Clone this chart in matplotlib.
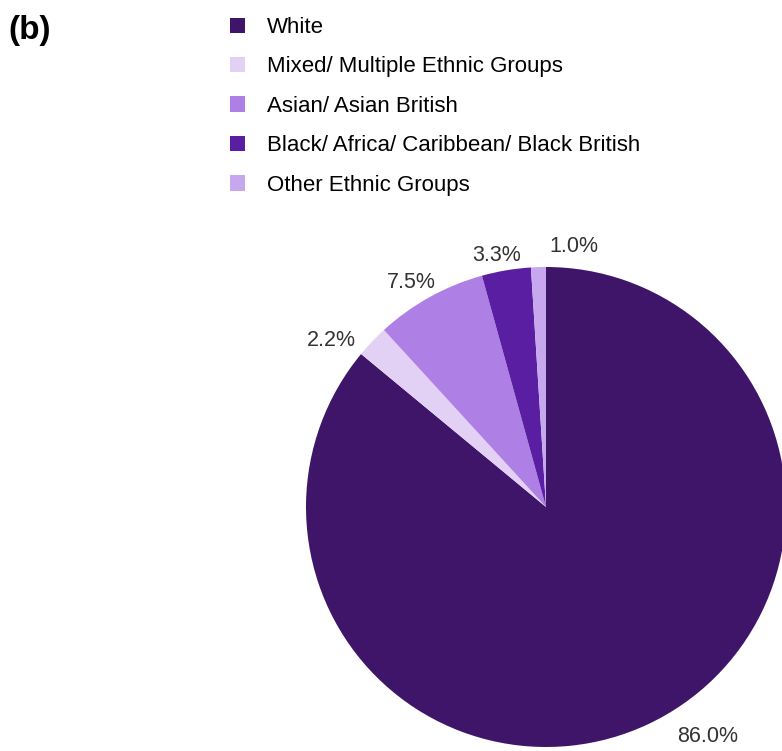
import numpy as np
import matplotlib.pyplot as plt

plt.rcParams['font.family'] = ['Liberation Sans', 'DejaVu Sans']

labels = ['White', 'Mixed/ Multiple Ethnic Groups', 'Asian/ Asian British',
          'Black/ Africa/ Caribbean/ Black British', 'Other Ethnic Groups']
values = [86.0, 2.2, 7.5, 3.3, 1.0]
colors = ['#3f1569', '#e2d1f5', '#ae7fe4', '#5a1ea3', '#c7a8ef']

# label placement (angle in degrees, radius) for each percentage text
label_pos = [(-54.8, 1.17), (142.2, 1.134), (121, 1.093), (101.2, 1.07), (83.8, 1.09)]

fig = plt.figure(figsize=(7.82, 7.51), dpi=100)
ax = fig.add_axes([306/782, 4/751, 480/782, 480/751])

wedges, _ = ax.pie(values, colors=colors, startangle=90, counterclock=False,
                   radius=1.0, wedgeprops=dict(linewidth=0))
ax.set_xlim(-1, 1)
ax.set_ylim(-1, 1)
ax.set_aspect('equal')
ax.axis('off')
for w in wedges:
    w.set_clip_on(False)

for v, (ang, r) in zip(values, label_pos):
    t = np.deg2rad(ang)
    ax.text(r*np.cos(t), r*np.sin(t), '%.1f%%' % v, ha='center', va='center',
            fontsize=15.5, color='#333333', clip_on=False)

fig.text(8/782, 1 - 31/751, '(b)', fontsize=24, fontweight='bold',
         ha='left', va='center')

fig.legend(wedges, labels, loc='upper left', bbox_to_anchor=(230/782, 1 - 17/751),
           frameon=False, fontsize=16, handlelength=0.68, handleheight=0.68,
           handletextpad=1.0, labelspacing=0.83, borderpad=0, borderaxespad=0)

fig.savefig('out.png', dpi=100)
